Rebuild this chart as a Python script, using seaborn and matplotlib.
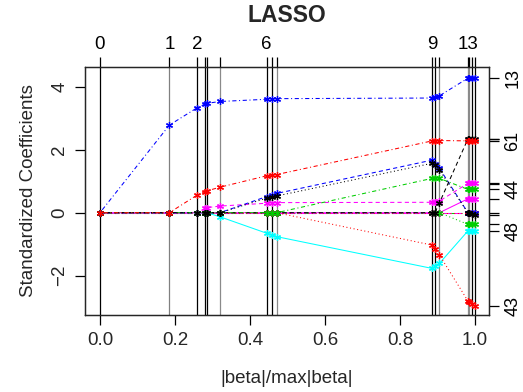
import numpy as np
import pandas as pd
import matplotlib
matplotlib.use("Agg")
import matplotlib.pyplot as plt
import seaborn as sns

# ---- data ----
knots = [0.0, 0.185, 0.259, 0.280, 0.2845, 0.320, 0.444, 0.458, 0.471,
         0.886, 0.893, 0.905, 0.981, 0.985, 0.991, 1.0]
top_labels = ["0", "1", "2", "", "", "", "6", "", "", "9", "", "", "13", "", "", ""]

v_zero_a = [0.0] * 16
v_zero_b = [0.0] * 16
v_zero_c = [0.0] * 16
v_zero_d = [0.0] * 16
v_cyan = [0, 0, 0, 0, 0, -0.13, -0.65, -0.70, -0.76, -1.77, -1.70, -1.61, -0.58, -0.58, -0.57, -0.57]
v_magenta_solid = [0] * 12 + [0.44, 0.44, 0.44, 0.44]
v_green_dot = [0] * 12 + [-0.37, -0.37, -0.37, -0.37]
v_red_dot = [0] * 9 + [-1.03, -1.15, -1.34, -2.80, -2.83, -2.90, -2.96]
v_blue_dotdash = [0, 2.78, 3.33, 3.45, 3.47, 3.53, 3.60, 3.61, 3.62, 3.64, 3.67, 3.71, 4.27, 4.27, 4.28, 4.28]
v_magenta_dash = [0, 0, 0, 0.14, 0.16, 0.21, 0.30, 0.31, 0.32, 0.33, 0.35, 0.37, 0.93, 0.93, 0.94, 0.94]
v_blue_dash = [0, 0, 0, 0, 0, 0, 0.51, 0.56, 0.61, 1.67, 1.56, 1.41, 0, 0, 0, 0]
v_black_dash = [0] * 11 + [0.31, 2.34, 2.34, 2.35, 2.35]
v_green_dotdash = [0] * 9 + [1.09, 1.09, 1.09, 0.74, 0.74, 0.74, 0.74]
v_black_dot = [0, 0, 0, 0, 0, 0, 0.46, 0.50, 0.53, 1.57, 1.50, 1.36, 0, 0, -0.03, -0.07]
v_red_dotdash = [0, 0, 0.56, 0.67, 0.69, 0.81, 1.17, 1.19, 1.21, 2.28, 2.28, 2.29, 2.28, 2.28, 2.29, 2.28]

right_ticks_labelled = {"13": 4.28, "61": 2.28, "44": 0.74, "48": -0.57, "43": -2.96}

# ---- styles ----
DOT = (0, (1, 2.5))
DASH = (0, (4, 3))
DOTDASH = (0, (1, 2.5, 4, 2.5))
LONGDASH = (0, (7, 3))
series = [
    (v_zero_a, "#00CD00", DASH),
    (v_zero_b, "#00FFFF", DOTDASH),
    (v_zero_c, "#FF00FF", LONGDASH),
    (v_zero_d, "#FF0000", DOT),
    (v_cyan, "#00FFFF", "-"),
    (v_magenta_solid, "#FF00FF", "-"),
    (v_green_dot, "#00CD00", DOT),
    (v_red_dot, "#FF0000", DOT),
    (v_blue_dotdash, "#0000FF", DOTDASH),
    (v_magenta_dash, "#FF00FF", DASH),
    (v_blue_dash, "#0000FF", DASH),
    (v_black_dash, "#000000", DASH),
    (v_green_dotdash, "#00CD00", DOTDASH),
    (v_black_dot, "#000000", DOT),
    (v_red_dotdash, "#FF0000", DOTDASH),
]
knot_colors = ["#000000", "#808080", "#000000", "#000000", "#000000", "#8a8a8a",
               "#000000", "#000000", "#8a8a8a", "#000000", "#000000", "#8a8a8a",
               "#8a8a8a", "#8a8a8a", "#000000", "#000000"]

sns.set_style("white")
plt.rcParams["font.family"] = ["Liberation Sans", "DejaVu Sans"]

fig = plt.figure(figsize=(5.23, 3.92), dpi=100)
ax = fig.add_axes([0.1625, 0.1964, 0.7725, 0.6327])

for vals, col, ls in series:
    sns.lineplot(x=knots, y=vals, ax=ax, color=col, linestyle=ls, lw=0.75,
                 marker=(6, 2, 0), markersize=5, mec=col, mew=0.9,
                 sort=False, estimator=None, zorder=3)

for k, c in zip(knots, knot_colors):
    ax.axvline(k, color=c, lw=0.9, zorder=2)

ax.set_xlim(-0.04, 1.0373)
ax.set_ylim(-3.248, 4.625)
ax.set_xticks([0, 0.2, 0.4, 0.6, 0.8, 1.0])
ax.set_xticklabels(["0.0", "0.2", "0.4", "0.6", "0.8", "1.0"])
ax.set_yticks([-2, 0, 2, 4])
ax.set_yticklabels(["\u22122", "0", "2", "4"], rotation=90, va="center")
ax.tick_params(axis="x", direction="out", length=7, width=0.9, labelsize=13.5,
               color="black", pad=5, bottom=True)
ax.tick_params(axis="y", direction="out", length=7, width=0.9, labelsize=13.5,
               color="black", pad=5, left=True)
for sp in ax.spines.values():
    sp.set_visible(True)
    sp.set_color("black")
    sp.set_linewidth(0.9)
ax.set_xlabel("|beta|/max|beta|", fontsize=13.5, labelpad=15)
ax.set_ylabel("Standardized Coefficients", fontsize=13.5, labelpad=10)

# top axis (steps)
axt = ax.twiny()
axt.set_xlim(ax.get_xlim())
axt.set_xticks(knots)
axt.set_xticklabels(top_labels)
axt.tick_params(axis="x", direction="out", length=7, width=0.9, labelsize=13.5, pad=3,
                top=True, colors="black")
for tl, c in zip(axt.get_xticklines()[1::2], knot_colors):
    tl.set_color(c)

# right axis (final coefficients)
axr = ax.twinx()
axr.set_ylim(ax.get_ylim())
finals = sorted(set(round(s[0][-1], 2) for s in series))
extra = [0.91, 2.34, -0.07]
rt = sorted(set(finals + extra))
lab_map = {round(v, 2): k for k, v in right_ticks_labelled.items()}
axr.set_yticks(rt)
axr.set_yticklabels([lab_map.get(round(v, 2), "") for v in rt], rotation=90, va="center")
axr.tick_params(axis="y", direction="out", length=7, width=0.9, labelsize=13, pad=4,
                right=True, colors="black")

fig.suptitle("LASSO", x=0.549, y=0.99, fontsize=16.5, fontweight="bold")
fig.savefig("out.png", dpi=100)
